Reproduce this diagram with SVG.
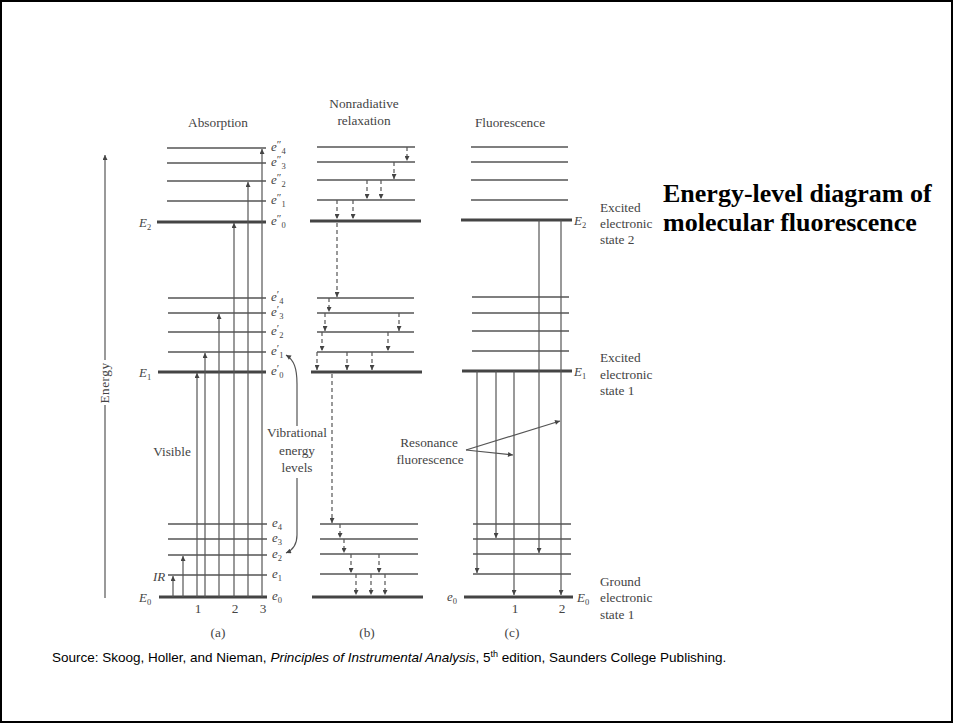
<svg xmlns="http://www.w3.org/2000/svg" width="954" height="724" viewBox="0 0 954 724">
<defs>
<marker id="ah" viewBox="0 0 10 10" refX="10" refY="5" markerWidth="7" markerHeight="5" markerUnits="userSpaceOnUse" orient="auto">
<path d="M0,0 L10,5 L0,10 z" fill="#444"/>
</marker>
<style>
.lv{stroke:#555;stroke-width:1.3;fill:none}
.th{stroke:#444;stroke-width:3;fill:none}
.ar{stroke:#555;stroke-width:1.2;fill:none;marker-end:url(#ah)}
.da{stroke:#555;stroke-width:1.2;fill:none;stroke-dasharray:4 3;marker-end:url(#ah)}
.ln{stroke:#555;stroke-width:1.2;fill:none}
.t{font-family:"Liberation Serif","Times New Roman",serif;font-size:13.3px;fill:#444}
.it{font-style:italic}
.lb{font-family:"Liberation Serif","Times New Roman",serif;font-size:13px;fill:#444}
.s{font-size:8.5px}
.p{font-size:11px}
</style>
</defs>
<rect x="1" y="1" width="951" height="721" fill="#fff" stroke="#000" stroke-width="2"/>

<g id="title">
<text x="663" y="202" font-family="'Liberation Serif','Times New Roman',serif" font-weight="bold" font-size="26" fill="#000">Energy-level diagram of</text>
<text x="663" y="231" font-family="'Liberation Serif','Times New Roman',serif" font-weight="bold" font-size="26" fill="#000">molecular fluorescence</text>
</g>

<g id="energy-axis">
<line class="ln" x1="105" y1="598" x2="105" y2="405"/>
<line class="ar" x1="105" y1="360" x2="105" y2="155"/>
<text class="t" transform="translate(109,383) rotate(-90)" text-anchor="middle" letter-spacing="0.5">Energy</text>
</g>

<g id="absorption">
<text class="t" x="218" y="127" text-anchor="middle">Absorption</text>
<line class="lv" x1="167" y1="148" x2="266" y2="148"/>
<line class="lv" x1="167" y1="163" x2="266" y2="163"/>
<line class="lv" x1="167" y1="181" x2="266" y2="181"/>
<line class="lv" x1="167" y1="201" x2="266" y2="201"/>
<line class="th" x1="157" y1="222" x2="266" y2="222"/>
<line class="lv" x1="168" y1="298" x2="266" y2="298"/>
<line class="lv" x1="168" y1="313" x2="266" y2="313"/>
<line class="lv" x1="168" y1="332" x2="266" y2="332"/>
<line class="lv" x1="168" y1="352" x2="266" y2="352"/>
<line class="th" x1="158" y1="372" x2="266" y2="372"/>
<line class="lv" x1="168" y1="524" x2="267" y2="524"/>
<line class="lv" x1="168" y1="539" x2="267" y2="539"/>
<line class="lv" x1="168" y1="555" x2="267" y2="555"/>
<line class="lv" x1="168" y1="575" x2="267" y2="575"/>
<line class="th" x1="159" y1="597" x2="267" y2="597"/>
<text class="lb" x="139" y="227"><tspan class="it">E</tspan><tspan class="s" dy="3">2</tspan></text>
<text class="lb" x="139" y="377"><tspan class="it">E</tspan><tspan class="s" dy="3">1</tspan></text>
<text class="lb" x="139" y="602"><tspan class="it">E</tspan><tspan class="s" dy="3">0</tspan></text>
<text class="lb it" x="153" y="581">IR</text>
<text class="t" x="172" y="456" text-anchor="middle">Visible</text>
<text class="lb" x="271" y="151"><tspan class="it">e</tspan><tspan class="p" dy="-3">″</tspan><tspan class="s" dy="6">4</tspan></text>
<text class="lb" x="271" y="166"><tspan class="it">e</tspan><tspan class="p" dy="-3">″</tspan><tspan class="s" dy="6">3</tspan></text>
<text class="lb" x="271" y="184"><tspan class="it">e</tspan><tspan class="p" dy="-3">″</tspan><tspan class="s" dy="6">2</tspan></text>
<text class="lb" x="271" y="204"><tspan class="it">e</tspan><tspan class="p" dy="-3">″</tspan><tspan class="s" dy="6">1</tspan></text>
<text class="lb" x="271" y="225"><tspan class="it">e</tspan><tspan class="p" dy="-3">″</tspan><tspan class="s" dy="6">0</tspan></text>
<text class="lb" x="271" y="301"><tspan class="it">e</tspan><tspan class="p" dy="-3">′</tspan><tspan class="s" dy="6">4</tspan></text>
<text class="lb" x="271" y="316"><tspan class="it">e</tspan><tspan class="p" dy="-3">′</tspan><tspan class="s" dy="6">3</tspan></text>
<text class="lb" x="271" y="335"><tspan class="it">e</tspan><tspan class="p" dy="-3">′</tspan><tspan class="s" dy="6">2</tspan></text>
<text class="lb" x="271" y="355"><tspan class="it">e</tspan><tspan class="p" dy="-3">′</tspan><tspan class="s" dy="6">1</tspan></text>
<text class="lb" x="271" y="375"><tspan class="it">e</tspan><tspan class="p" dy="-3">′</tspan><tspan class="s" dy="6">0</tspan></text>
<text class="lb" x="272" y="527"><tspan class="it">e</tspan><tspan class="s" dy="3">4</tspan></text>
<text class="lb" x="272" y="542"><tspan class="it">e</tspan><tspan class="s" dy="3">3</tspan></text>
<text class="lb" x="272" y="558"><tspan class="it">e</tspan><tspan class="s" dy="3">2</tspan></text>
<text class="lb" x="272" y="578"><tspan class="it">e</tspan><tspan class="s" dy="3">1</tspan></text>
<text class="lb" x="272" y="600"><tspan class="it">e</tspan><tspan class="s" dy="3">0</tspan></text>
<text class="t" x="198" y="613" text-anchor="middle">1</text>
<text class="t" x="235" y="613" text-anchor="middle">2</text>
<text class="t" x="263" y="613" text-anchor="middle">3</text>
<text class="t" x="218" y="637" text-anchor="middle">(a)</text>
<text class="t" x="297" y="437" text-anchor="middle">Vibrational</text>
<text class="t" x="297" y="455" text-anchor="middle">energy</text>
<text class="t" x="297" y="472" text-anchor="middle">levels</text>
</g>

<g id="nonradiative">
<text class="t" x="364" y="108" text-anchor="middle">Nonradiative</text>
<text class="t" x="364" y="125" text-anchor="middle">relaxation</text>
<line class="lv" x1="317" y1="147" x2="415" y2="147"/>
<line class="lv" x1="317" y1="162" x2="415" y2="162"/>
<line class="lv" x1="317" y1="180" x2="415" y2="180"/>
<line class="lv" x1="317" y1="200" x2="415" y2="200"/>
<line class="th" x1="310" y1="221" x2="421" y2="221"/>
<line class="lv" x1="317" y1="298" x2="414" y2="298"/>
<line class="lv" x1="317" y1="313" x2="414" y2="313"/>
<line class="lv" x1="317" y1="332" x2="414" y2="332"/>
<line class="lv" x1="317" y1="352" x2="414" y2="352"/>
<line class="th" x1="311" y1="372" x2="422" y2="372"/>
<line class="lv" x1="320" y1="524" x2="418" y2="524"/>
<line class="lv" x1="320" y1="539" x2="418" y2="539"/>
<line class="lv" x1="320" y1="554" x2="418" y2="554"/>
<line class="lv" x1="320" y1="574" x2="418" y2="574"/>
<line class="th" x1="312" y1="597" x2="423" y2="597"/>
<text class="t" x="367" y="637" text-anchor="middle">(b)</text>
</g>

<g id="fluorescence">
<text class="t" x="510" y="127" text-anchor="middle">Fluorescence</text>
<line class="lv" x1="471" y1="147" x2="568" y2="147"/>
<line class="lv" x1="471" y1="162" x2="568" y2="162"/>
<line class="lv" x1="471" y1="180" x2="568" y2="180"/>
<line class="lv" x1="471" y1="200" x2="568" y2="200"/>
<line class="th" x1="461" y1="220" x2="572" y2="220"/>
<line class="lv" x1="472" y1="297" x2="569" y2="297"/>
<line class="lv" x1="472" y1="313" x2="569" y2="313"/>
<line class="lv" x1="472" y1="331" x2="569" y2="331"/>
<line class="lv" x1="472" y1="351" x2="569" y2="351"/>
<line class="th" x1="462" y1="371" x2="572" y2="371"/>
<line class="lv" x1="473" y1="524" x2="571" y2="524"/>
<line class="lv" x1="473" y1="539" x2="571" y2="539"/>
<line class="lv" x1="473" y1="554" x2="571" y2="554"/>
<line class="lv" x1="473" y1="574" x2="571" y2="574"/>
<line class="th" x1="464" y1="597" x2="573" y2="597"/>
<text class="lb" x="574" y="225"><tspan class="it">E</tspan><tspan class="s" dy="3">2</tspan></text>
<text class="lb" x="574" y="376"><tspan class="it">E</tspan><tspan class="s" dy="3">1</tspan></text>
<text class="lb" x="577" y="602"><tspan class="it">E</tspan><tspan class="s" dy="3">0</tspan></text>
<text class="lb" x="447" y="601"><tspan class="it">e</tspan><tspan class="s" dy="3">0</tspan></text>
<text class="t" x="600" y="212">Excited</text>
<text class="t" x="600" y="228">electronic</text>
<text class="t" x="600" y="244">state 2</text>
<text class="t" x="600" y="362">Excited</text>
<text class="t" x="600" y="379">electronic</text>
<text class="t" x="600" y="395">state 1</text>
<text class="t" x="600" y="586">Ground</text>
<text class="t" x="600" y="602">electronic</text>
<text class="t" x="600" y="619">state 1</text>
<text class="t" x="515" y="613" text-anchor="middle">1</text>
<text class="t" x="562" y="613" text-anchor="middle">2</text>
<text class="t" x="512" y="637" text-anchor="middle">(c)</text>
<text class="t" x="429" y="447" text-anchor="middle">Resonance</text>
<text class="t" x="430" y="464" text-anchor="middle">fluorescence</text>
</g>

<g id="connectors">
<line class="ar" x1="173" y1="597" x2="173" y2="576"/>
<line class="ar" x1="183" y1="597" x2="183" y2="556"/>
<line class="ar" x1="197" y1="597" x2="197" y2="373"/>
<line class="ar" x1="205" y1="597" x2="205" y2="353"/>
<line class="ar" x1="219" y1="597" x2="219" y2="314"/>
<line class="ar" x1="234" y1="597" x2="234" y2="223"/>
<line class="ar" x1="248" y1="597" x2="248" y2="182"/>
<line class="ar" x1="262" y1="597" x2="262" y2="149"/>
<path class="ar" d="M297,426 L297,384 C297,368 294,360 286,355"/>
<path class="ar" d="M297,478 L297,535 C297,545 293,550 286,553"/>
<line class="da" x1="407" y1="147" x2="407" y2="161"/>
<line class="da" x1="394" y1="162" x2="394" y2="179"/>
<line class="da" x1="367" y1="180" x2="367" y2="199"/>
<line class="da" x1="381" y1="180" x2="381" y2="199"/>
<line class="da" x1="337" y1="200" x2="337" y2="219"/>
<line class="da" x1="353" y1="200" x2="353" y2="219"/>
<line class="da" x1="337" y1="223" x2="337" y2="297"/>
<line class="da" x1="329" y1="298" x2="329" y2="312"/>
<line class="da" x1="325" y1="313" x2="325" y2="331"/>
<line class="da" x1="399" y1="313" x2="399" y2="331"/>
<line class="da" x1="322" y1="332" x2="322" y2="351"/>
<line class="da" x1="388" y1="332" x2="388" y2="351"/>
<line class="da" x1="317" y1="352" x2="317" y2="370"/>
<line class="da" x1="347" y1="352" x2="347" y2="370"/>
<line class="da" x1="372" y1="352" x2="372" y2="370"/>
<line class="da" x1="332" y1="374" x2="332" y2="523"/>
<line class="da" x1="340" y1="524" x2="340" y2="538"/>
<line class="da" x1="344" y1="539" x2="344" y2="553"/>
<line class="da" x1="351" y1="554" x2="351" y2="573"/>
<line class="da" x1="379" y1="554" x2="379" y2="573"/>
<line class="da" x1="356" y1="574" x2="356" y2="595"/>
<line class="da" x1="371" y1="574" x2="371" y2="595"/>
<line class="da" x1="385" y1="574" x2="385" y2="595"/>
<line class="ar" x1="477" y1="371" x2="477" y2="573"/>
<line class="ar" x1="496" y1="371" x2="496" y2="538"/>
<line class="ar" x1="514" y1="371" x2="514" y2="595"/>
<line class="ar" x1="539" y1="220" x2="539" y2="553"/>
<line class="ar" x1="561" y1="220" x2="561" y2="595"/>
<line class="ar" x1="466" y1="450" x2="513" y2="455"/>
<line class="ar" x1="466" y1="450" x2="560" y2="421"/>
</g>

<g id="source">
<text x="52" y="662" font-family="'Liberation Sans',Arial,sans-serif" font-size="13.5" fill="#000">Source: Skoog, Holler, and Nieman, <tspan font-style="italic">Principles of Instrumental Analysis</tspan>, 5<tspan font-size="9" dy="-5">th</tspan><tspan dy="5"> edition, Saunders College Publishing.</tspan></text>
</g>
</svg>
